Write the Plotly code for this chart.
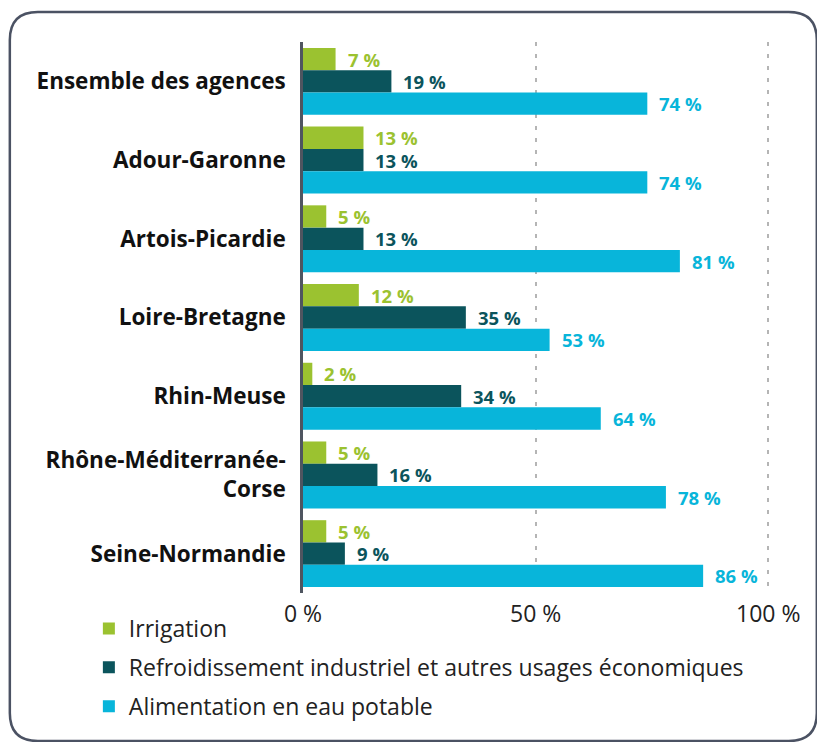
import plotly.graph_objects as go

categories = ["Ensemble des agences", "Adour-Garonne", "Artois-Picardie", "Loire-Bretagne",
              "Rhin-Meuse", "Rhône-Méditerranée-<br>Corse", "Seine-Normandie"]
series_names = ["Irrigation", "Refroidissement industriel et autres usages économiques",
                "Alimentation en eau potable"]
irrigation = [7, 13, 5, 12, 2, 5, 5]
refroidissement = [19, 13, 13, 35, 34, 16, 9]
alimentation = [74, 74, 81, 53, 64, 78, 86]
tick_vals = [0, 50, 100]
tick_text = ["0 %", "50 %", "100 %"]

colors = ["#9BC230", "#0B545C", "#08B5DA"]
series = [irrigation, refroidissement, alimentation]

W, H = 817, 742
XMAX = 100.8
L, T, B = 303, 42, 593
R = L + 465 * XMAX / 100


def px(x):
    return (x - L) / (R - L)


def py(y):
    return (B - y) / (B - T)


fig = go.Figure()
for name, vals, col in zip(series_names, series, colors):
    fig.add_trace(go.Bar(
        y=categories, x=vals, name=name, orientation="h",
        marker=dict(color=col, line=dict(width=0)),
        legendgroup=name, hoverinfo="skip",
    ))

# value labels
bar_px = (B - T) / len(categories) * 0.85 / 3
shifts = [bar_px, 0, -bar_px]
annotations = []
for vals, col, sh in zip(series, colors, shifts):
    for c, v in zip(categories, vals):
        annotations.append(dict(
            x=v, y=c, xref="x", yref="y", text=f"{v} %", showarrow=False,
            xanchor="left", yanchor="middle", xshift=10, yshift=sh,
            font=dict(family="Open Sans", size=18.5, color=col, weight="bold"),
        ))

# rounded border
r = 28
x0, x1, y0, y1 = 10, 816.5, 12, 741
path = (f"M {px(x0 + r)} {py(y0)} L {px(x1 - r)} {py(y0)} "
        f"Q {px(x1)} {py(y0)} {px(x1)} {py(y0 + r)} L {px(x1)} {py(y1 - r)} "
        f"Q {px(x1)} {py(y1)} {px(x1 - r)} {py(y1)} L {px(x0 + r)} {py(y1)} "
        f"Q {px(x0)} {py(y1)} {px(x0)} {py(y1 - r)} L {px(x0)} {py(y0 + r)} "
        f"Q {px(x0)} {py(y0)} {px(x0 + r)} {py(y0)} Z")

fig.update_layout(
    width=W, height=H,
    margin=dict(l=L, r=W - R, t=T, b=H - B, autoexpand=False),
    plot_bgcolor="white", paper_bgcolor="white",
    barmode="group", bargap=0.15, bargroupgap=0,
    font=dict(family="Open Sans", color="#222222"),
    showlegend=True,
    legend=dict(
        x=px(89), y=py(607), xanchor="left", yanchor="top",
        orientation="v", traceorder="grouped", tracegroupgap=6,
        font=dict(family="Open Sans", size=23, color="#222222"),
        bgcolor="rgba(0,0,0,0)",
    ),
    annotations=annotations,
    shapes=[dict(type="path", path=path, xref="paper", yref="paper",
                 line=dict(color="#4B5263", width=2.5), fillcolor="rgba(0,0,0,0)",
                 layer="below")],
)
fig.update_xaxes(
    range=[0, XMAX], tickvals=tick_vals, ticktext=tick_text,
    showgrid=True, gridcolor="#B5B5B5", griddash="4px,8px", gridwidth=1.5,
    zeroline=False, showline=False, ticks="", ticklabelstandoff=5,
    tickfont=dict(family="Open Sans", size=23, color="#222222"),
    fixedrange=True,
)
fig.update_yaxes(
    autorange="reversed", showline=True, linecolor="#4F5560", linewidth=2.5,
    showgrid=False, zeroline=False, ticks="", ticklabelstandoff=10,
    tickfont=dict(family="Open Sans", size=22.5, color="#111111", weight="bold"),
    fixedrange=True,
)

fig.write_html("out.html", config={"displayModeBar": False},
               post_script="document.body.style.margin='0';")
